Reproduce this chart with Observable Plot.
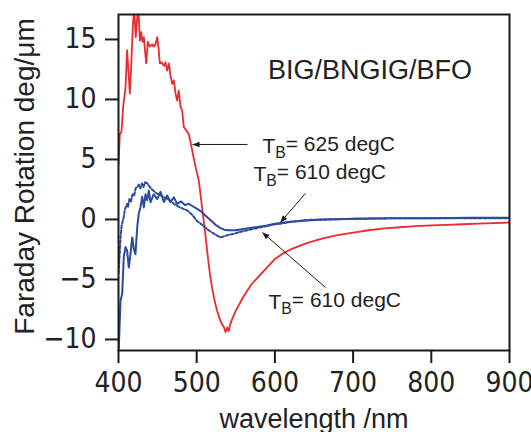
<!DOCTYPE html>
<html>
<head>
<meta charset="utf-8">
<script src="https://cdn.jsdelivr.net/npm/d3@7"></script>
<script src="https://cdn.jsdelivr.net/npm/@observablehq/plot@0.6"></script>
<style>
  html, body { margin: 0; padding: 0; background: #fff; }
  #chart svg { display: block; }
</style>
</head>
<body>
<div id="chart"></div>
<script>
// ---- data (wavelength nm, Faraday rotation deg/um) ----
const redWavelength = [400,401.7,403.8,406,409,411,413.2,414.5,416.2,418.3,419.6,420.5,422,424,425.6,427.3,429,430.7,432.4,435.4,437.5,440,443,445,447.3,449.5,451.5,452.8,455,458,460,462.2,464.4,466.5,468.7,470.8,472.9,475,477,479.3,481.4,483.5,487,490,494.2,498.5,502.7,505,508,511,514,517,520,523,526,529,532,535,537,539,541,543,546,550,555,560,570,580,590,600,610,620,640,660,680,700,720,740,760,780,800,820,840,860,880,900];
const redValue = [4.6,7.1,7.3,9.4,11,14.1,11.9,10.5,12.7,16,17.3,17,15.2,16.9,17.3,14.9,15.6,14.8,15.2,13,14.8,14.4,14.6,14.4,14.6,15.2,14.1,13,13.1,12.8,13.1,12.4,13,12,11.3,11.6,10.5,9.9,10.75,9.4,9.1,7.7,7.4,7.1,5.75,4.4,3.25,2.0,0.4,-1.2,-3.0,-4.6,-5.8,-6.8,-7.6,-8.2,-8.7,-9.0,-9.4,-9.0,-9.3,-8.7,-8.2,-7.6,-7.0,-6.4,-5.4,-4.7,-4.0,-3.3,-2.85,-2.5,-2.0,-1.6,-1.3,-1.1,-0.9,-0.75,-0.65,-0.55,-0.5,-0.45,-0.4,-0.35,-0.3,-0.25];

const blueSolidWavelength = [400,400.4,402.6,404.7,406.8,409,411,413.2,415.3,417.5,419.6,421.7,424,426,428,430.3,432.4,434.5,436.7,438.8,441,445,449.5,453.7,458,462.2,466.5,470.7,475,480,485,490,495,500,505,510,515,520,525,530,535,540,550,560,570,580,590,600,620,650,700,750,800,850,900];
const blueSolidValue = [-10.9,-10.6,-6.75,-6.2,-3.1,-2.3,-2.6,-4.0,-2.9,-1.5,-2.45,-2.9,-0.6,0.5,1.0,1.9,1.0,2.1,1.6,2.4,1.45,2.1,1.7,2.3,1.45,2.0,1.45,1.85,1.3,1.5,1.2,1.3,1.1,0.9,0.7,0.4,0.1,-0.2,-0.5,-0.7,-0.85,-0.9,-0.9,-0.8,-0.7,-0.6,-0.5,-0.35,-0.2,-0.05,0.05,0.1,0.1,0.15,0.15];

const blueDashWavelength = [400,401,402.6,404,406.8,408,411,412,414,416,418,420,422,424,426,428,430,432,434,437,440,443,448,454,460,465,471,476,482,488,494,500,505,510,515,520,525,530,535,540,547,555,565,575,582,590,600,607,620,640,660,700,750,800,850,900];
const blueDashValue = [-4.5,-3.5,-1.5,-0.5,0.2,0.8,1.3,1.0,1.7,1.5,2.1,2.0,2.6,2.7,2.9,2.6,3.0,2.7,3.1,3.0,2.7,2.5,2.2,2.0,1.8,1.6,1.3,1.1,0.9,0.75,0.4,-0.1,-0.35,-0.6,-0.9,-1.1,-1.3,-1.5,-1.4,-1.3,-1.2,-1.05,-0.9,-0.75,-0.65,-0.55,-0.4,-0.35,-0.2,-0.05,0.0,0.05,0.1,0.1,0.1,0.1];

const xTicks = [400,500,600,700,800,900];
const yTicks = [-10,-5,0,5,10,15];
const xLabel = "wavelength /nm";
const yLabel = "Faraday Rotation deg/\u03bcm";

// annotations (data coordinates)
const labelText = ["BIG/BNGIG/BFO", "T_B= 625 degC", "T_B= 610 degC", "T_B= 610 degC"];
const labelX = [721.6, 584, 572.6, 591.8];
const labelY = [12.44, 6.14, 3.8, -6.86];
const arrowX1 = [565, 639, 664.7];
const arrowY1 = [6.25, 2.17, -5.67];
const arrowX2 = [494.6, 607, 584];
const arrowY2 = [6.25, -0.25, -1.08];

// ---- build tables ----
const red = redWavelength.map((w, i) => ({w, v: redValue[i]}));
const blueSolid = blueSolidWavelength.map((w, i) => ({w, v: blueSolidValue[i]}));
const blueDash = blueDashWavelength.map((w, i) => ({w, v: blueDashValue[i]}));
const title = [{text: labelText[0], x: labelX[0], y: labelY[0]}];
const tLabels = labelText.slice(1).map((t, i) => ({text: t, x: labelX[i + 1], y: labelY[i + 1]}));
const arrows = arrowX1.map((x1, i) => ({x1, y1: arrowY1[i], x2: arrowX2[i], y2: arrowY2[i]}));

const RED = "#ec2a30";
const BLUE = "#2c4a9e";
const TICKFONT = "'Liberation Sans Narrow', 'Arial Narrow', 'DejaVu Sans Condensed', sans-serif";
const FONT = "'Liberation Sans', Arial, Helvetica, sans-serif";

const plot = Plot.plot({
  width: 531,
  height: 432,
  marginLeft: 118,
  marginRight: 22,
  marginTop: 14,
  marginBottom: 82,
  style: {fontFamily: FONT, background: "#fff", color: "#222"},
  x: {domain: [400, 900]},
  y: {domain: [-10.92, 17.08]},
  marks: [
    Plot.line(red, {x: "w", y: "v", stroke: RED, strokeWidth: 1.8, clip: true}),
    Plot.line(blueDash, {x: "w", y: "v", stroke: BLUE, strokeWidth: 2, strokeDasharray: "3,2", clip: true}),
    Plot.line(blueSolid, {x: "w", y: "v", stroke: BLUE, strokeWidth: 2, clip: true}),
    Plot.frame({stroke: "#1a1a1a", strokeWidth: 2}),
    Plot.axisX({ticks: xTicks, tickSize: 13, tickPadding: 9, strokeWidth: 2, label: null,
      fontSize: 28, fontFamily: TICKFONT, stroke: "#1a1a1a", fill: "#222"}),
    Plot.axisY({ticks: yTicks, tickSize: 13, tickPadding: 9, strokeWidth: 2, label: null,
      tickFormat: d => d < 0 ? "\u2212" + Math.abs(d) : String(d),
      fontSize: 28, fontFamily: TICKFONT, stroke: "#1a1a1a", fill: "#222"}),
    Plot.text([xLabel], {frameAnchor: "bottom", dy: 69, fontSize: 27, lineAnchor: "middle", textAnchor: "middle", fill: "#222"}),
    Plot.text([yLabel], {frameAnchor: "left", dx: -93, dy: -6, rotate: -90, fontSize: 28, lineAnchor: "middle", textAnchor: "middle", fill: "#222"}),
    Plot.text(title, {x: "x", y: "y", text: "text", fontSize: 27, lineAnchor: "middle", textAnchor: "middle", fill: "#222"}),
    Plot.text(tLabels, {x: "x", y: "y", text: "text", fontSize: 21, lineAnchor: "middle", textAnchor: "start", fill: "#222"}),
    Plot.link(arrows, {x1: "x1", y1: "y1", x2: "x2", y2: "y2", stroke: "#1a1a1a", strokeWidth: 1})
  ]
});

// arrowheads (filled) and subscripts
const svg = d3.select(plot);
const defs = svg.insert("defs", ":first-child");
defs.append("marker")
  .attr("id", "ahead")
  .attr("viewBox", "0 -5 10 10")
  .attr("refX", 10).attr("refY", 0)
  .attr("markerUnits", "userSpaceOnUse")
  .attr("markerWidth", 11).attr("markerHeight", 7)
  .attr("orient", "auto")
  .append("path").attr("d", "M0,-4L10,0L0,4Z").attr("fill", "#1a1a1a");
svg.selectAll("g[aria-label=link] path").attr("marker-end", "url(#ahead)");
svg.selectAll("text").each(function () {
  const t = this.textContent;
  if (t.startsWith("T_B")) {
    const rest = t.slice(3);
    const el = d3.select(this);
    el.text(null);
    el.append("tspan").text("T");
    el.append("tspan").attr("dy", "0.32em").attr("font-size", "0.75em").text("B");
    el.append("tspan").attr("dy", "-0.32em").text(rest);
  }
});

document.getElementById("chart").appendChild(plot);
</script>
</body>
</html>
